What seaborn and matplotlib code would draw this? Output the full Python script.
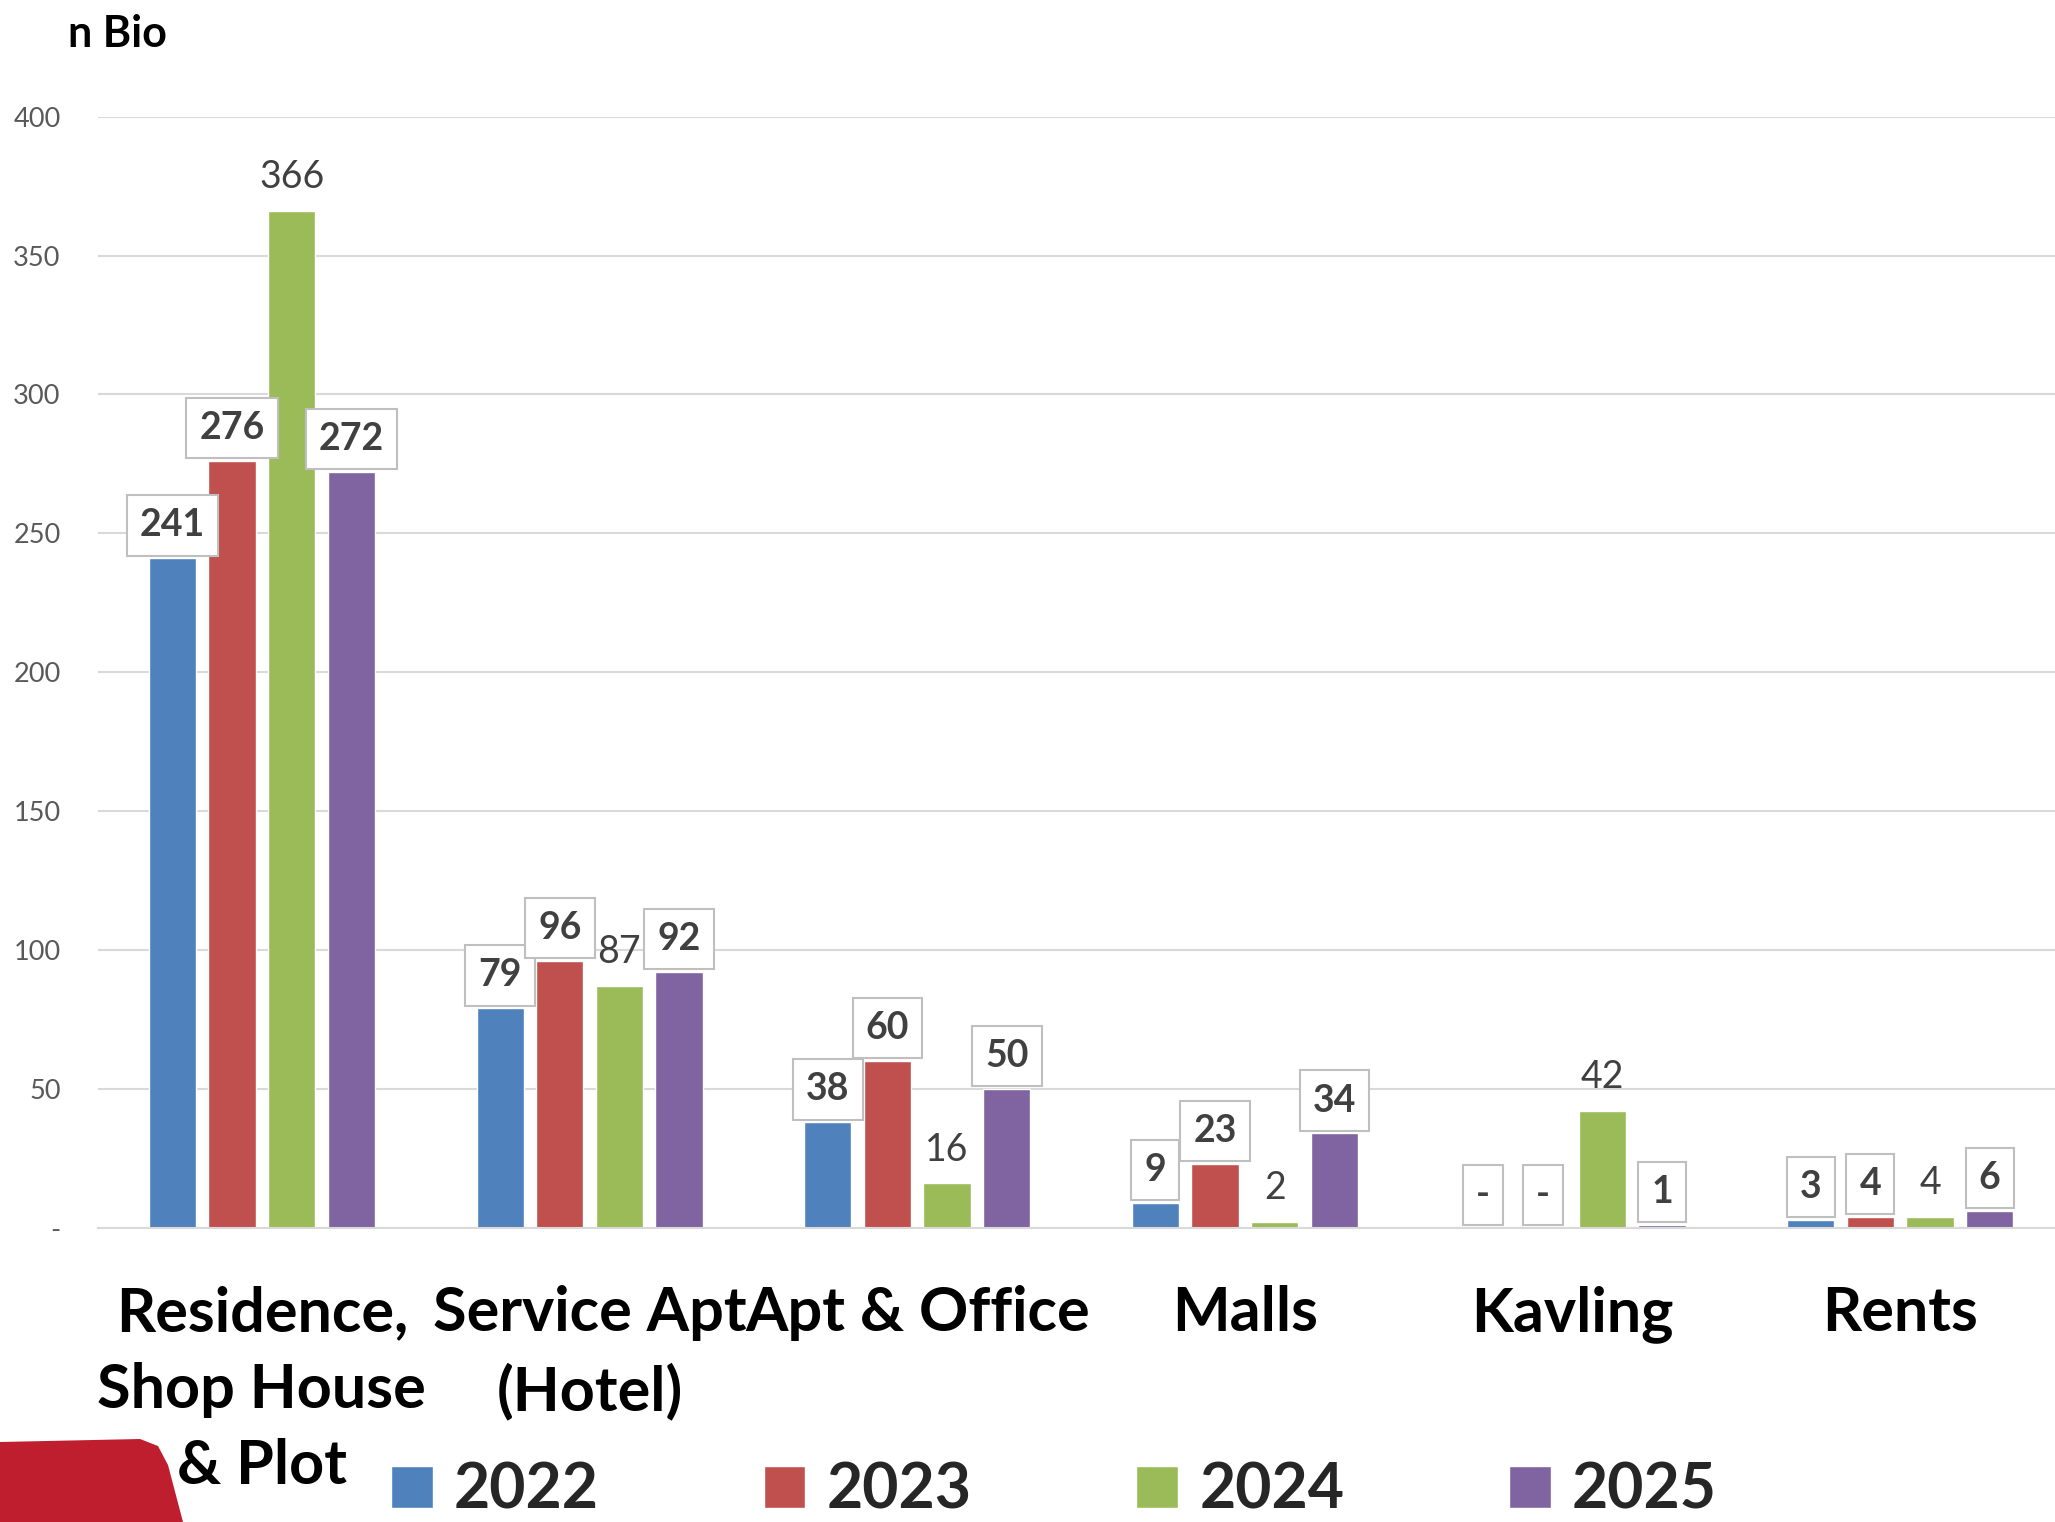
import numpy as np
import pandas as pd
import seaborn as sns
import matplotlib.pyplot as plt
from matplotlib.patches import Polygon

# data
categories = ["Residence,\nShop House\n& Plot", "Service Apt\n(Hotel)", "Apt & Office",
              "Malls", "Kavling", "Rents"]
years = ["2022", "2023", "2024", "2025"]
v2022 = [241, 79, 38, 9, 0, 3]
v2023 = [276, 96, 60, 23, 0, 4]
v2024 = [366, 87, 16, 2, 42, 4]
v2025 = [272, 92, 50, 34, 1, 6]
yticks = [0, 50, 100, 150, 200, 250, 300, 350, 400]
ytick_labels = ["-", "50", "100", "150", "200", "250", "300", "350", "400"]
colors = ["#4F81BD", "#C0504D", "#9BBB59", "#8064A2"]

df = pd.DataFrame({
    "category": categories * 4,
    "year": np.repeat(years, len(categories)),
    "value": v2022 + v2023 + v2024 + v2025,
})

sns.set_theme(style="white")
plt.rcParams['font.family'] = ['Lato', 'DejaVu Sans']

fig = plt.figure(figsize=(20.55, 15.22), dpi=100)
ax = fig.add_axes([0.0477, 0.1932, 0.9567, 0.7302])

sns.barplot(data=df, x="category", y="value", hue="year", palette=colors,
            saturation=1, width=0.728, gap=0.21, ax=ax)

ax.set_xlim(-0.5, 5.5)
ax.set_ylim(0, 400)
ax.set_yticks(yticks)
ax.set_yticklabels(ytick_labels)
ax.set_xlabel("")
ax.set_ylabel("")
ax.grid(axis='y', color='#D9D9D9', lw=1.5)
ax.set_axisbelow(True)
for s in ["top", "right", "left"]:
    ax.spines[s].set_visible(False)
ax.spines["bottom"].set_color('#D9D9D9')
ax.spines["bottom"].set_linewidth(1.5)
ax.tick_params(axis='y', length=0, pad=27, labelsize=19.5, labelcolor='#595959')
ax.tick_params(axis='x', length=0, pad=41, labelsize=44, labelcolor='black')
for t in ax.get_xticklabels():
    t.set_fontweight('bold')
    t.set_linespacing(1.45)

# data labels: boxed bold for all years except 2024
for i, cont in enumerate(ax.containers):
    boxed = years[i] != "2024"
    for bar in cont:
        h = bar.get_height()
        txt = "-" if h == 0 else f"{h:.0f}"
        box = dict(boxstyle='square,pad=0.35', fc='white', ec='#BFBFBF', lw=1.5) if boxed \
            else dict(boxstyle='square,pad=0.35', fc='none', ec='none')
        ax.annotate(txt, xy=(bar.get_x() + bar.get_width() / 2, h),
                    xytext=(0, 11.5), textcoords='offset points',
                    ha='center', va='bottom', fontsize=27,
                    fontweight='bold' if boxed else 'normal',
                    color='#404040', bbox=box, annotation_clip=False)

handles, labels = ax.get_legend_handles_labels()
ax.get_legend().remove()
fig.legend(handles, labels, ncol=4, loc='center left',
           bbox_to_anchor=(391 / 2055, 0.0205), frameon=False,
           prop=dict(weight='bold', size=45), handlelength=0.67,
           handleheight=0.67, handletextpad=0.34, columnspacing=2.63,
           borderpad=0, borderaxespad=0)

fig.text(68 / 2055, 1 - 47 / 1522, "n Bio", fontsize=31, fontweight='bold',
         va='baseline', color='black')

# red decorative corner shape
W, H = 2055, 1522
pts = [(0, 1442), (140, 1439), (158, 1446), (168, 1465), (183, 1522), (0, 1522)]
fig.patches.append(Polygon([(x / W, 1 - y / H) for x, y in pts], closed=True,
                           transform=fig.transFigure, fc='#BE1E2D', ec='none'))

fig.savefig("out.png", dpi=100)
